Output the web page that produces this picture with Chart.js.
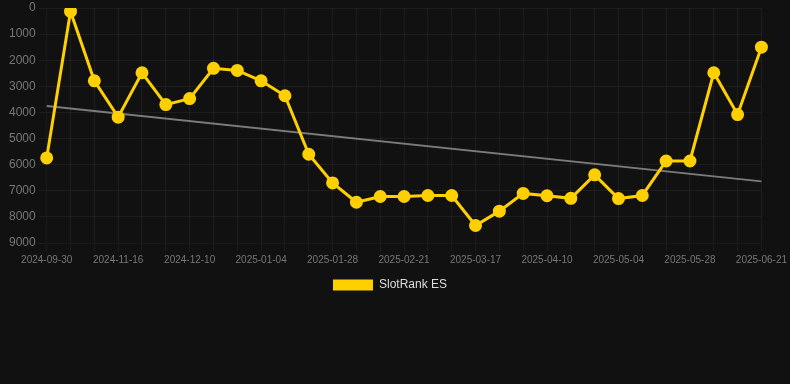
<!DOCTYPE html>
<html>
<head>
<meta charset="utf-8">
<script src="https://cdn.jsdelivr.net/npm/chart.js@4"></script>
<style>
  html, body { margin: 0; padding: 0; background: #111111; }
  #wrap { width: 790px; height: 301px; }
</style>
</head>
<body>
<div id="wrap"><canvas id="chart"></canvas></div>
<script>
var dates = [
  "2024-09-30", "2024-10-16", "2024-11-01", "2024-11-16", "2024-11-24", "2024-12-02",
  "2024-12-10", "2024-12-18", "2024-12-26", "2025-01-04", "2025-01-12", "2025-01-20",
  "2025-01-28", "2025-02-05", "2025-02-13", "2025-02-21", "2025-03-01", "2025-03-09",
  "2025-03-17", "2025-03-25", "2025-04-02", "2025-04-10", "2025-04-18", "2025-04-26",
  "2025-05-04", "2025-05-12", "2025-05-20", "2025-05-28", "2025-06-05", "2025-06-13",
  "2025-06-21"
];
var ranks = [
  5740, 130, 2790, 4180, 2480, 3700, 3470, 2310, 2390, 2790, 3360, 5600,
  6700, 7440, 7220, 7220, 7180, 7180, 8330, 7780, 7100, 7190, 7290, 6390,
  7300, 7180, 5860, 5860, 2480, 4080, 1500
];
// trend line end values
var trendEnds = [3750, 6640];

var trend = dates.map(function (d, i) {
  if (i === 0) return trendEnds[0];
  if (i === dates.length - 1) return trendEnds[1];
  return null;
});

var ctx = document.getElementById("chart");
var myChart = new Chart(ctx, {
  type: "line",
  data: {
    labels: dates,
    datasets: [
      {
        label: "SlotRank ES",
        data: ranks,
        borderColor: "#FFD000",
        backgroundColor: "#FFD000",
        borderWidth: 3,
        pointRadius: 5,
        pointHoverRadius: 5,
        tension: 0,
      },
      {
        label: "trend",
        data: trend,
        borderColor: "rgba(150,150,150,0.8)",
        borderWidth: 2,
        pointRadius: 0,
        spanGaps: true,
        tension: 0,
      },
    ],
  },
  options: {
    responsive: true,
    maintainAspectRatio: false,
    animation: false,
    layout: { padding: { left: 6, right: 16, top: 0, bottom: 0 } },
    scales: {
      x: {
        grid: { color: "rgba(255,255,255,0.05)" },
        ticks: {
          color: "#777",
          font: { family: "Liberation Sans", size: 10 },
          maxRotation: 0,
          autoSkip: false,
          callback: function (v, i) {
            return i % 3 === 0 ? this.getLabelForValue(v) : "";
          },
        },
      },
      y: {
        reverse: true,
        min: 0,
        max: 9000,
        grid: { color: "rgba(255,255,255,0.05)" },
        ticks: {
          color: "#777",
          stepSize: 1000,
          font: { family: "Liberation Sans", size: 12, lineHeight: 0.2 },
          callback: function (v) {
            return String(v);
          },
        },
      },
    },
    plugins: {
      legend: {
        position: "bottom",
        labels: {
          color: "#ddd",
          boxWidth: 40,
          boxHeight: 11,
          font: { family: "Liberation Sans", size: 12 },
          generateLabels: function (chart) {
            return Chart.defaults.plugins.legend.labels.generateLabels(chart)
              .filter(function (item) { return item.text !== "trend"; })
              .map(function (item) { item.lineWidth = 0; return item; });
          },
        },
      },
      tooltip: { enabled: false },
    },
  },
});
</script>
</body>
</html>
